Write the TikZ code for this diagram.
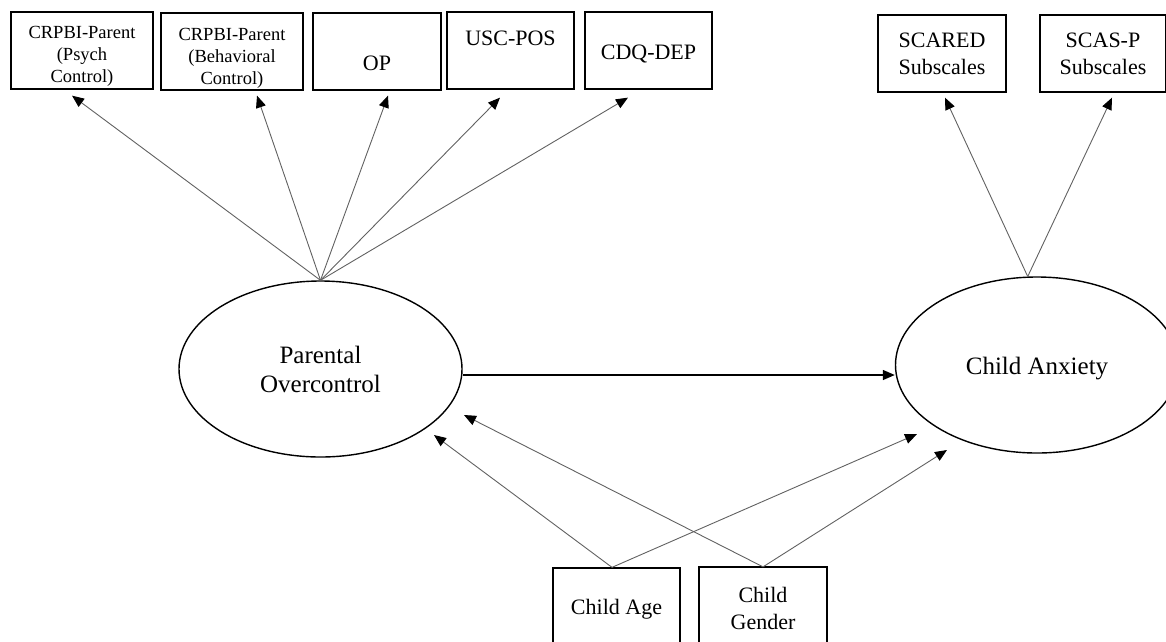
\documentclass[tikz,border=0pt]{standalone}
\usepackage{fontspec}
\setmainfont{Liberation Serif}
\usetikzlibrary{shapes.geometric,arrows.meta}
\tikzset{
  boxframe/.style={draw=black, line width=1.3pt, rectangle, inner sep=0pt, minimum height=77pt},
  smalltext/.style={inner sep=0pt, align=center, font=\fontsize{18.5}{22}\selectfont},
  bigtext/.style={inner sep=0pt, align=center, font=\fontsize{22}{27}\selectfont},
  bigbox/.style={boxframe, bigtext},
  latent/.style={draw=black, line width=1.4pt, ellipse, inner sep=0pt, align=center,
    font=\fontsize{25}{29}\selectfont, minimum width=283pt, minimum height=176pt},
  path/.style={draw=black!62, line width=0.9pt, -{Triangle[length=12pt,width=10pt,color=black]}},
  mainpath/.style={draw=black, line width=1.4pt, -{Triangle[length=12pt,width=10pt]}}
}
\begin{document}
\begin{tikzpicture}[x=1pt,y=-1pt]
\useasboundingbox (0,0) rectangle (1166,641);
% indicator boxes (top)
\node[boxframe, minimum width=142pt] (b1) at (82,50.5) {};
\node[smalltext] (b1t) at ([shift={(0,6)}]b1.center) {CRPBI-Parent\\(Psych\\Control)};
\node[boxframe, minimum width=142pt] (b2) at (232,51.5) {};
\node[smalltext] (b2t) at ([shift={(0,7)}]b2.center) {CRPBI-Parent\\(Behavioral\\Control)};
\node[boxframe, minimum width=128pt] (op) at (377,51.5) {};
\node[bigtext] (opt) at ([shift={(0,12)}]op.center) {OP};
\node[boxframe, minimum width=127pt] (usc) at (510.5,50.5) {};
\node[bigtext] (usct) at ([shift={(0,-12)}]usc.center) {USC-POS};
\node[boxframe, minimum width=127pt] (cdq) at (648.5,50.5) {};
\node[bigtext] (cdqt) at ([shift={(0,3)}]cdq.center) {CDQ-DEP};
\node[bigbox, minimum width=128pt] (scared) at (942,53.5) {SCARED\\Subscales};
\node[bigbox, minimum width=126pt] (scas) at (1103,53.5) {SCAS-P\\Subscales};
% latent variables
\node[latent] (po) at (320.5,369) {Parental\\Overcontrol};
\node[latent, text height=25pt, text depth=5.4pt] (ca) at (1037,365) {Child Anxiety};
% covariates
\node[bigbox, minimum width=127pt, minimum height=82pt] (age) at (616.5,609) {Child Age};
\node[bigbox, minimum width=128pt, minimum height=82pt] (gender) at (763,608) {Child\\Gender};
% loadings
\draw[path] (po.north) -- ([shift={(-10,6)}]b1.south);
\draw[path] (po.north) -- ([shift={(25,5)}]b2.south);
\draw[path] (po.north) -- ([shift={(11,5)}]op.south);
\draw[path] (po.north) -- ([shift={(-10.5,8)}]usc.south);
\draw[path] (po.north) -- ([shift={(-20.5,8)}]cdq.south);
\draw[path] (ca.96) -- ([shift={(3,5)}]scared.south);
\draw[path] (ca.96) -- ([shift={(9,5)}]scas.south);
% structural path
\draw[mainpath] ([shift={(0,6)}]po.east) -- ([shift={(0,10)}]ca.west);
% covariate paths
\draw[path] ([shift={(-4.5,0)}]age.north) -- ([shift={(113.5,66)}]po.center);
\draw[path] ([shift={(0,0.5)}]gender.north) -- ([shift={(143.5,46)}]po.center);
\draw[path] ([shift={(-4.5,0)}]age.north) -- ([shift={(-120,69)}]ca.center);
\draw[path] ([shift={(0,0.5)}]gender.north) -- ([shift={(-90,85)}]ca.center);
\end{tikzpicture}
\end{document}
